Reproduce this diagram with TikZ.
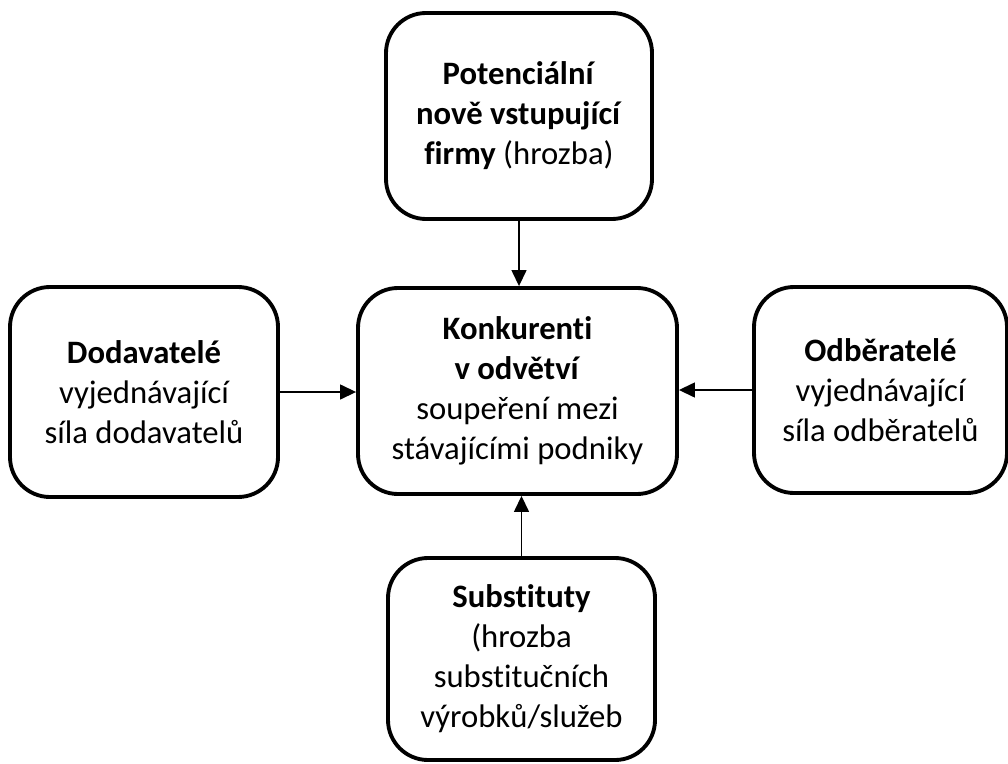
\documentclass[tikz,border=0pt]{standalone}
\usepackage{fontspec}
\setmainfont{Carlito}[RawFeature={-liga}]
\usepackage{tikz}
\usetikzlibrary{arrows.meta,positioning}

\tikzset{
  force/.style={draw,line width=2.2pt,rounded corners=0.8cm,align=center,
    minimum height=4.12cm,inner sep=2pt},
  push/.style={line width=0.8pt,-{Triangle[length=0.32cm,width=0.3cm]}}
}

\begin{document}
\begin{tikzpicture}[font=\fontsize{18.6}{22.8}\selectfont]
\useasboundingbox (0,0) rectangle (20.16,15.26);
\node[force,minimum width=6.38cm] (rivals) at (10.35,7.44) {\textbf{Konkurenti}\\\textbf{v odvětví}\\soupeření mezi\\stávajícími podniky};
\node[force,minimum width=5.32cm] (entrants) at (10.38,12.94) {\textbf{Potenciální}\\\textbf{nově vstupující}\\\textbf{firmy} (hrozba)};
\node[force,minimum width=5.36cm,minimum height=4.2cm] (suppliers) at (2.88,7.42) {\textbf{Dodavatelé}\\vyjednávající\\síla dodavatelů};
\node[force,minimum width=5.06cm] (buyers) at (17.61,7.46) {\textbf{Odběratelé}\\vyjednávající\\síla odběratelů};
\node[force,minimum width=5.34cm,minimum height=4.04cm] (substitutes) at (10.43,2.08) {\textbf{Substituty}\\(hrozba\\substitučních\\výrobků/služeb};
% arrows into the centre
\draw[push] (entrants.south) -- (entrants.south |- rivals.north);
\draw[push] (substitutes.north) -- (substitutes.north |- rivals.south);
\draw[push] (suppliers.east) -- (suppliers.east -| rivals.west);
\draw[push] (buyers.west) -- (buyers.west -| rivals.east);
\end{tikzpicture}
\end{document}
